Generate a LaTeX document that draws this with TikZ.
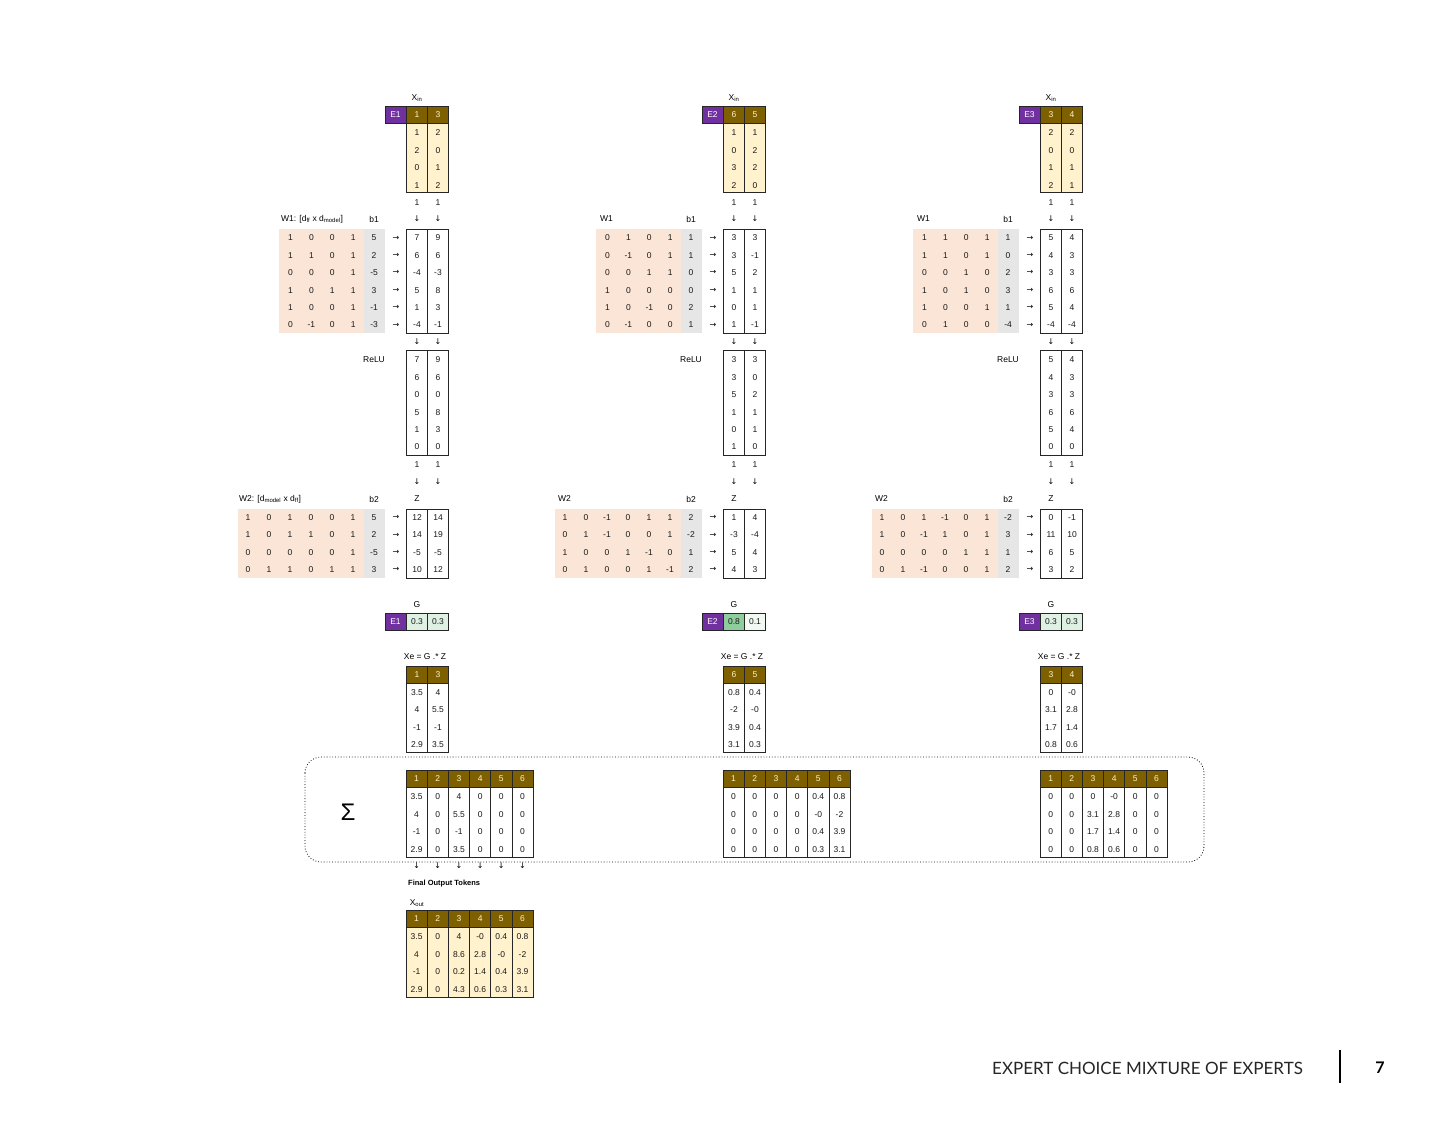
\documentclass[tikz,border=0pt]{standalone}
\usepackage{fontspec}
\setmainfont{Liberation Sans}
\newfontfamily\arrf{DejaVu Sans}
\newfontfamily\footf{Lato}
\newcommand{\fs}{\fontsize{8.5}{10}\selectfont}
\definecolor{purp}{HTML}{7030A0}
\definecolor{hdr}{HTML}{7F6000}
\definecolor{hdtext}{HTML}{FFF2CC}
\definecolor{yel}{HTML}{FFF2CC}
\definecolor{salm}{HTML}{FBE5D6}
\definecolor{grayb}{HTML}{E7E6E6}
\definecolor{gl}{HTML}{DFF1E3}
\definecolor{gm}{HTML}{8FCE9C}
\definecolor{gvl}{HTML}{F1F9F2}
\tikzset{
  num/.style={font=\fs, inner sep=0pt, text=black!90},
  hd/.style={font=\fs, inner sep=0pt, text=hdtext},
  etag/.style={font=\fs, inner sep=0pt, text=white},
  lab/.style={font=\fs, inner sep=0pt},
  arw/.style={font=\arrf\fontsize{8}{9}\selectfont, inner sep=0pt},
  cellb/.style={draw=black!85, line width=0.6pt},
}
% number matrix: #1 name, #2 x0, #3 dx, #4 y0, #5 dy, #6 rows (macro)
\newcommand{\nummat}[6]{%
  \foreach \rowv [count=\r] in #6 {%
    \foreach \v [count=\c] in \rowv {%
      \node[num] (#1-\r-\c) at ({#2+(\c-1)*#3},{#4+(\r-1)*#5}) {\v};}}}
% two-column boxed matrix outline: #1 ytop, #2 ybot
\newcommand{\twobox}[2]{%
  \draw[cellb] (406,#1) rectangle (448,#2);
  \draw[cellb] (427,#1) -- (427,#2);}
% six-column matrix: #1 name, #2 header top, #3 data fill, #4 data macro
\newcommand{\sixmat}[4]{%
  \foreach \c in {1,...,6} {%
    \draw[cellb,fill=hdr] ({406+(\c-1)*21.17},#2) rectangle ++(21.17,17);
    \node[hd] (#1h\c) at ({416.6+(\c-1)*21.17},{#2+8.5}) {\c};
    \draw[cellb,fill=#3] ({406+(\c-1)*21.17},{#2+17}) rectangle ++(21.17,70);}
  \nummat{#1}{416.6}{21.17}{#2+27}{17.5}{#4}}
% one expert: #1 tag, #2 expert label
\newcommand{\expert}[2]{%
  % X_in
  \node[lab] (#1xinl) at (417,98) {X\textsubscript{in}};
  \draw[cellb,fill=purp] (385,106) rectangle (406,123);
  \node[etag] (#1et) at (395.5,114.5) {#2};
  \foreach \v [count=\i] in \Hd {%
    \draw[cellb,fill=hdr] ({406+(\i-1)*21},106) rectangle ++(21,17);
    \node[hd] (#1xh\i) at ({417+(\i-1)*21},114.5) {\v};
    \draw[cellb,fill=yel] ({406+(\i-1)*21},123) rectangle ++(21,69);}
  \nummat{#1x}{417}{21}{132.5}{17.6}{\XinD}
  \node[num] (#1oa1) at (417,203) {1};
  \node[num] (#1oa2) at (438,203) {1};
  \node[arw] (#1da1) at (417,219) {↓};
  \node[arw] (#1da2) at (438,219) {↓};
  % W1
  \node[lab,anchor=west] (#1w1l) at (\WoneX,219) {\WoneLab};
  \node[lab] (#1b1l) at (374,219) {b1};
  \fill[salm] (279,229) rectangle (364,333);
  \fill[grayb] (364,229) rectangle (385,333);
  \nummat{#1w}{290.5}{20.9}{238}{17.4}{\Wone}
  \foreach \i in {1,...,6} {\node[arw] (#1ra\i) at (396,{238+(\i-1)*17.4}) {→};}
  \twobox{229}{333}
  \nummat{#1h}{417}{21}{238}{17.4}{\Hm}
  \node[arw] (#1db1) at (417,342) {↓};
  \node[arw] (#1db2) at (438,342) {↓};
  % ReLU
  \node[lab] (#1relu) at (374,360) {ReLU};
  \twobox{350}{455}
  \nummat{#1r}{417}{21}{360}{17.4}{\Rl}
  \node[num] (#1ob1) at (417,465) {1};
  \node[num] (#1ob2) at (438,465) {1};
  \node[arw] (#1dc1) at (417,482) {↓};
  \node[arw] (#1dc2) at (438,482) {↓};
  % W2
  \node[lab,anchor=west] (#1w2l) at (\WtwoX,499) {\WtwoLab};
  \node[lab] (#1b2l) at (374,499) {b2};
  \node[lab] (#1zl) at (417,499) {Z};
  \fill[salm] (238,509) rectangle (364,578);
  \fill[grayb] (364,509) rectangle (385,578);
  \nummat{#1v}{248}{21}{517.5}{17.4}{\Wtwo}
  \foreach \i in {1,...,4} {\node[arw] (#1rb\i) at (396,{517.5+(\i-1)*17.4}) {→};}
  \twobox{509}{578}
  \nummat{#1z}{417}{21}{517.5}{17.4}{\Zm}
  % G
  \node[lab] (#1gl) at (417,605) {G};
  \draw[cellb,fill=purp] (385,613) rectangle (406,630);
  \node[etag] (#1gt) at (395.5,621.5) {#2};
  \draw[cellb,fill=\GoneC] (406,613) rectangle (427,630);
  \draw[cellb,fill=\GtwoC] (427,613) rectangle (448,630);
  \node[num] (#1g1) at (417,621.5) {\Gone};
  \node[num] (#1g2) at (438,621.5) {\Gtwo};
  % Xe
  \node[lab] (#1xel) at (425,657) {Xe = G .* Z};
  \foreach \v [count=\i] in \Hd {%
    \draw[cellb,fill=hdr] ({406+(\i-1)*21},666) rectangle ++(21,17);
    \node[hd] (#1eh\i) at ({417+(\i-1)*21},674.5) {\v};
    \draw[cellb,fill=white] ({406+(\i-1)*21},683) rectangle ++(21,69);}
  \nummat{#1e}{417}{21}{692.5}{17.5}{\XeD}
  % scattered into the sum
  \sixmat{#1s}{770}{white}{\SumD}
}
\begin{document}
\begin{tikzpicture}[x=1pt,y=-1pt]
\useasboundingbox (0,0) rectangle (1456,1125);
\fill[white] (0,0) rectangle (1456,1125);
% sum box
\draw[line width=0.8pt, dotted, rounded corners=16pt] (305,757) rectangle (1204,862);
\node[font=\fontsize{24}{26}\selectfont, inner sep=0pt] (sigma) at (348,812) {Σ};
% Expert 1
\def\Hd{1,3}
\def\XinD{{1,2},{2,0},{0,1},{1,2}}
\def\WoneX{281}\def\WtwoX{239}
\def\WoneLab{W1: [d\textsubscript{ff} x d\textsubscript{model}]}
\def\WtwoLab{W2: [d\textsubscript{model} x d\textsubscript{ff}]}
\def\Wone{{1,0,0,1,5},{1,1,0,1,2},{0,0,0,1,-5},{1,0,1,1,3},{1,0,0,1,-1},{0,-1,0,1,-3}}
\def\Hm{{7,9},{6,6},{-4,-3},{5,8},{1,3},{-4,-1}}
\def\Rl{{7,9},{6,6},{0,0},{5,8},{1,3},{0,0}}
\def\Wtwo{{1,0,1,0,0,1,5},{1,0,1,1,0,1,2},{0,0,0,0,0,1,-5},{0,1,1,0,1,1,3}}
\def\Zm{{12,14},{14,19},{-5,-5},{10,12}}
\def\Gone{0.3}\def\Gtwo{0.3}\def\GoneC{gl}\def\GtwoC{gl}
\def\XeD{{3.5,4},{4,5.5},{-1,-1},{2.9,3.5}}
\def\SumD{{3.5,0,4,0,0,0},{4,0,5.5,0,0,0},{-1,0,-1,0,0,0},{2.9,0,3.5,0,0,0}}
\expert{a}{E1}
% Expert 2
\begin{scope}[xshift=317pt]
\def\Hd{6,5}
\def\XinD{{1,1},{0,2},{3,2},{2,0}}
\def\WoneX{283}\def\WtwoX{241}
\def\WoneLab{W1}\def\WtwoLab{W2}
\def\Wone{{0,1,0,1,1},{0,-1,0,1,1},{0,0,1,1,0},{1,0,0,0,0},{1,0,-1,0,2},{0,-1,0,0,1}}
\def\Hm{{3,3},{3,-1},{5,2},{1,1},{0,1},{1,-1}}
\def\Rl{{3,3},{3,0},{5,2},{1,1},{0,1},{1,0}}
\def\Wtwo{{1,0,-1,0,1,1,2},{0,1,-1,0,0,1,-2},{1,0,0,1,-1,0,1},{0,1,0,0,1,-1,2}}
\def\Zm{{1,4},{-3,-4},{5,4},{4,3}}
\def\Gone{0.8}\def\Gtwo{0.1}\def\GoneC{gm}\def\GtwoC{gvl}
\def\XeD{{0.8,0.4},{-2,-0},{3.9,0.4},{3.1,0.3}}
\def\SumD{{0,0,0,0,0.4,0.8},{0,0,0,0,-0,-2},{0,0,0,0,0.4,3.9},{0,0,0,0,0.3,3.1}}
\expert{b}{E2}
\end{scope}
% Expert 3
\begin{scope}[xshift=634pt]
\def\Hd{3,4}
\def\XinD{{2,2},{0,0},{1,1},{2,1}}
\def\WoneX{283}\def\WtwoX{241}
\def\WoneLab{W1}\def\WtwoLab{W2}
\def\Wone{{1,1,0,1,1},{1,1,0,1,0},{0,0,1,0,2},{1,0,1,0,3},{1,0,0,1,1},{0,1,0,0,-4}}
\def\Hm{{5,4},{4,3},{3,3},{6,6},{5,4},{-4,-4}}
\def\Rl{{5,4},{4,3},{3,3},{6,6},{5,4},{0,0}}
\def\Wtwo{{1,0,1,-1,0,1,-2},{1,0,-1,1,0,1,3},{0,0,0,0,1,1,1},{0,1,-1,0,0,1,2}}
\def\Zm{{0,-1},{11,10},{6,5},{3,2}}
\def\Gone{0.3}\def\Gtwo{0.3}\def\GoneC{gl}\def\GtwoC{gl}
\def\XeD{{0,-0},{3.1,2.8},{1.7,1.4},{0.8,0.6}}
\def\SumD{{0,0,0,-0,0,0},{0,0,3.1,2.8,0,0},{0,0,1.7,1.4,0,0},{0,0,0.8,0.6,0,0}}
\expert{c}{E3}
\end{scope}
% arrows to the final output
\foreach \c in {1,...,6} {\node[arw] (fa\c) at ({416.6+(\c-1)*21.17},866) {↓};}
\node[font=\bfseries\fontsize{7.5}{9}\selectfont, inner sep=0pt, anchor=west] (fot) at (408,884) {Final Output Tokens};
\node[lab] (xoutl) at (417,903) {X\textsubscript{out}};
\def\FinD{{3.5,0,4,-0,0.4,0.8},{4,0,8.6,2.8,-0,-2},{-1,0,0.2,1.4,0.4,3.9},{2.9,0,4.3,0.6,0.3,3.1}}
\sixmat{fin}{910}{yel}{\FinD}
% footer
\node[font=\footf\fontsize{17}{19}\selectfont, text=black!85, inner sep=0pt, anchor=east] (foot) at (1303,1068) {EXPERT CHOICE MIXTURE OF EXPERTS};
\draw[line width=2.6pt] (1340,1050) -- (1340,1083);
\node[font=\footf\bfseries\fontsize{16}{18}\selectfont, inner sep=0pt] (pg) at (1380,1068) {7};
\end{tikzpicture}
\end{document}
